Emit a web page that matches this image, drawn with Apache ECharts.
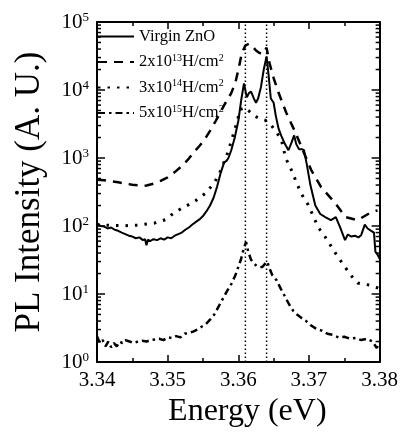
<!DOCTYPE html>
<html>
<head>
<meta charset="utf-8">
<script src="https://cdn.jsdelivr.net/npm/echarts@6/dist/echarts.min.js"></script>
<style>html,body{margin:0;padding:0;background:#fff}#c{width:401px;height:435px}</style>
</head>
<body>
<div id="c"></div>
<script>
// ---- data ----
const seriesNames = ['Virgin ZnO', '2x10^13H/cm^2', '3x10^14H/cm^2', '5x10^15H/cm^2'];
const xTicks = [3.34, 3.35, 3.36, 3.37, 3.38];
const yDecades = [1, 10, 100, 1000, 10000, 100000];
const markerEnergies = [3.361, 3.364];

const virginE = [3.3400,3.3405,3.3410,3.3415,3.3420,3.3425,3.3430,3.3435,3.3440,3.3445,3.3450,3.3455,3.3460,3.3465,3.3468,3.3470,3.3472,3.3475,3.3480,3.3485,3.3490,3.3495,3.3500,3.3505,3.3510,3.3515,3.3520,3.3525,3.3530,3.3535,3.3540,3.3545,3.3550,3.3555,3.3560,3.3565,3.3570,3.3575,3.3580,3.3583,3.3586,3.3590,3.3595,3.3600,3.3604,3.3608,3.3612,3.3615,3.3618,3.3622,3.3625,3.3628,3.3632,3.3636,3.3640,3.3643,3.3646,3.3650,3.3653,3.3657,3.3661,3.3666,3.3671,3.3675,3.3679,3.3682,3.3686,3.3690,3.3693,3.3697,3.3702,3.3709,3.3716,3.3723,3.3731,3.3738,3.3744,3.3751,3.3755,3.3760,3.3765,3.3770,3.3774,3.3779,3.3783,3.3788,3.3792,3.3794,3.3797,3.3800];
const virginI = [110,100,98,92,95,88,85,80,76,72,70,66,68,62,64,52,63,60,64,62,66,63,68,66,72,76,80,88,95,105,115,125,140,165,200,260,380,600,870,900,1000,1300,2000,3500,7000,12500,7800,9000,9500,7500,6500,7500,11000,20000,31000,16000,7500,6500,4200,2700,2100,1600,1300,1650,2150,1600,1350,1350,1300,800,400,200,150,135,122,135,96,62,75,70,72,68,74,105,92,85,80,42,38,33];

const h13E = [3.3400,3.3410,3.3420,3.3430,3.3440,3.3450,3.3460,3.3465,3.3470,3.3480,3.3490,3.3500,3.3510,3.3520,3.3530,3.3538,3.3545,3.3552,3.3560,3.3568,3.3575,3.3582,3.3590,3.3596,3.3601,3.3605,3.3610,3.3615,3.3620,3.3625,3.3630,3.3635,3.3640,3.3644,3.3650,3.3657,3.3668,3.3681,3.3692,3.3703,3.3717,3.3737,3.3752,3.3769,3.3786,3.3797];
const h13I = [480,470,455,440,420,405,395,390,395,420,460,520,620,760,980,1250,1500,1850,2500,3500,4800,6500,9000,13000,22000,35000,45000,48000,44000,38000,35000,34000,42000,25000,15000,9100,4600,2350,1250,670,375,218,135,122,155,170];

const h14E = [3.3400,3.3420,3.3440,3.3458,3.3481,3.3498,3.3505,3.3519,3.3537,3.3553,3.3566,3.3575,3.3585,3.3595,3.3603,3.3610,3.3616,3.3622,3.3630,3.3638,3.3646,3.3654,3.3661,3.3667,3.3675,3.3682,3.3689,3.3699,3.3713,3.3723,3.3741,3.3759,3.3769,3.3786,3.3800];
const h14I = [105,102,101,103,110,125,145,180,225,300,430,650,1200,2600,5200,5500,4800,4200,3800,3600,3100,2400,1850,1000,670,445,300,204,96,69,35,19,14.5,13.5,12];

const h15E = [3.3400,3.3404,3.3408,3.3412,3.3416,3.3420,3.3424,3.3428,3.3432,3.3436,3.3440,3.3446,3.3452,3.3458,3.3464,3.3470,3.3476,3.3482,3.3488,3.3494,3.3500,3.3506,3.3512,3.3518,3.3524,3.3530,3.3536,3.3542,3.3548,3.3554,3.3560,3.3566,3.3572,3.3578,3.3584,3.3590,3.3596,3.3600,3.3604,3.3608,3.3611,3.3614,3.3618,3.3622,3.3626,3.3630,3.3634,3.3638,3.3641,3.3644,3.3648,3.3654,3.3660,3.3666,3.3672,3.3678,3.3684,3.3690,3.3696,3.3702,3.3710,3.3718,3.3726,3.3734,3.3742,3.3750,3.3758,3.3766,3.3774,3.3782,3.3790,3.3796,3.3800];
const h15I = [2.4,1.9,2.1,1.7,2.0,1.65,1.9,1.7,2.0,1.9,2.1,2.0,1.9,2.0,2.05,2.0,2.1,2.15,2.2,2.1,2.3,2.25,2.4,2.3,2.6,2.7,2.8,3.0,3.3,3.6,4.2,5.0,6.5,8.5,11,14,19,25,33,48,58,42,32,28,26,25,25,28,30,24,19,16,12,9.2,7,5.6,4.9,4.4,4.0,3.5,3.1,2.9,2.6,2.5,2.3,2.35,2.2,2.25,2.1,2.2,2.0,1.6,2.0];

// ---- chart ----
const FONT = 'Liberation Serif';
const zip = (xs, ys) => xs.map((x, i) => [x, ys[i]]);
const minorTickValues = [];
for (let d = 0; d < yDecades.length - 1; d++) for (let k = 2; k <= 9; k++) minorTickValues.push([xTicks[0], k * yDecades[d]]);

const richName = name => name.split(/\^(\d+)/).map((p, i) => i % 2 ? '{s|' + p + '}' : (p ? '{n|' + p + '}' : '')).join('');

const lineBase = {type: 'line', showSymbol: false, symbol: 'none', animation: false, xAxisIndex: 0, yAxisIndex: 0, itemStyle: {color: '#000'}};

const markerSeries = markerEnergies.map(e => Object.assign({}, lineBase, {
  name: 'marker ' + e, silent: true, z: 2,
  data: [[e, yDecades[0]], [e, yDecades[yDecades.length - 1]]],
  lineStyle: {color: '#000', width: 1.5, type: [1.5, 2.5]}
}));

const chart = echarts.init(document.getElementById('c'), null, {renderer: 'canvas'});
chart.setOption({
  animation: false,
  backgroundColor: '#fff',
  grid: {left: 97, right: 19, top: 22, bottom: 73},
  legend: {
    orient: 'vertical', left: 97, top: 28, padding: 0, itemWidth: 36, itemHeight: 12, itemGap: 8,
    data: seriesNames,
    formatter: richName,
    itemStyle: {opacity: 0},
    textStyle: {
      color: '#000', fontFamily: FONT, fontSize: 16,
      rich: {
        n: {fontFamily: FONT, fontSize: 16.5, color: '#000', lineHeight: 18},
        s: {fontFamily: FONT, fontSize: 10, color: '#000', verticalAlign: 'top', lineHeight: 10}
      }
    }
  },
  xAxis: [{
    type: 'value', min: 3.34, max: 3.38, interval: 0.01, position: 'bottom',
    name: 'Energy (eV)', nameLocation: 'middle', nameGap: 30,
    nameTextStyle: {fontFamily: FONT, fontSize: 32, color: '#000', padding: [0, 0, 0, 18]},
    axisLine: {lineStyle: {color: '#000', width: 2}},
    axisTick: {inside: true, length: 7, lineStyle: {color: '#000', width: 1.5}},
    minorTick: {show: true, splitNumber: 2, length: 4, lineStyle: {color: '#000', width: 1.5}},
    splitLine: {show: false},
    axisLabel: {fontFamily: FONT, fontSize: 21, color: '#000', margin: 8, formatter: v => v.toFixed(2)}
  }, {
    type: 'value', min: 3.34, max: 3.38, interval: 0.01, position: 'top',
    axisLine: {lineStyle: {color: '#000', width: 2}},
    axisTick: {inside: true, length: 7, lineStyle: {color: '#000', width: 1.5}},
    minorTick: {show: true, splitNumber: 2, length: 4, lineStyle: {color: '#000', width: 1.5}},
    splitLine: {show: false}, axisLabel: {show: false}
  }],
  yAxis: [{
    type: 'log', logBase: 10, min: 1, max: 100000, position: 'left',
    name: 'PL Intensity (A. U.)', nameLocation: 'middle', nameGap: 50,
    nameTextStyle: {fontFamily: FONT, fontSize: 35, color: '#000'},
    axisLine: {lineStyle: {color: '#000', width: 2}},
    axisTick: {inside: true, length: 8, lineStyle: {color: '#000', width: 1.5}},
    splitLine: {show: false},
    axisLabel: {
      margin: 8, formatter: v => '{b|10}{s|' + Math.round(Math.log10(v)) + '}',
      rich: {
        b: {fontFamily: FONT, fontSize: 21, color: '#000', lineHeight: 22},
        s: {fontFamily: FONT, fontSize: 13, color: '#000', verticalAlign: 'top', lineHeight: 12}
      }
    }
  }, {
    type: 'log', logBase: 10, min: 1, max: 100000, position: 'right',
    axisLine: {lineStyle: {color: '#000', width: 2}},
    axisTick: {inside: true, length: 8, lineStyle: {color: '#000', width: 1.5}},
    splitLine: {show: false}, axisLabel: {show: false}
  }],
  series: [
    Object.assign({}, lineBase, {
      name: seriesNames[0], data: zip(virginE, virginI), z: 4,
      lineStyle: {color: '#000', width: 2, type: 'solid'}
    }),
    Object.assign({}, lineBase, {
      name: seriesNames[1], data: zip(h13E, h13I), z: 3,
      lineStyle: {color: '#000', width: 2.5, type: [9, 7]}
    }),
    Object.assign({}, lineBase, {
      name: seriesNames[2], data: zip(h14E, h14I), z: 3,
      lineStyle: {color: '#000', width: 3, type: [2.5, 7]}
    }),
    Object.assign({}, lineBase, {
      name: seriesNames[3], data: zip(h15E, h15I), z: 3,
      lineStyle: {color: '#000', width: 2.5, type: [7, 4, 2.5, 4]}
    }),
    ...markerSeries,
    {
      type: 'custom', silent: true, animation: false, clip: false, z: 10,
      xAxisIndex: 0, yAxisIndex: 0, data: minorTickValues,
      renderItem: (params, api) => {
        const y = api.coord([api.value(0), api.value(1)])[1];
        const cs = params.coordSys;
        const st = {stroke: '#000', lineWidth: 1.5};
        return {type: 'group', children: [
          {type: 'line', shape: {x1: cs.x, y1: y, x2: cs.x + 4, y2: y}, style: st},
          {type: 'line', shape: {x1: cs.x + cs.width - 4, y1: y, x2: cs.x + cs.width, y2: y}, style: st}
        ]};
      }
    }
  ]
});
</script>
</body>
</html>
